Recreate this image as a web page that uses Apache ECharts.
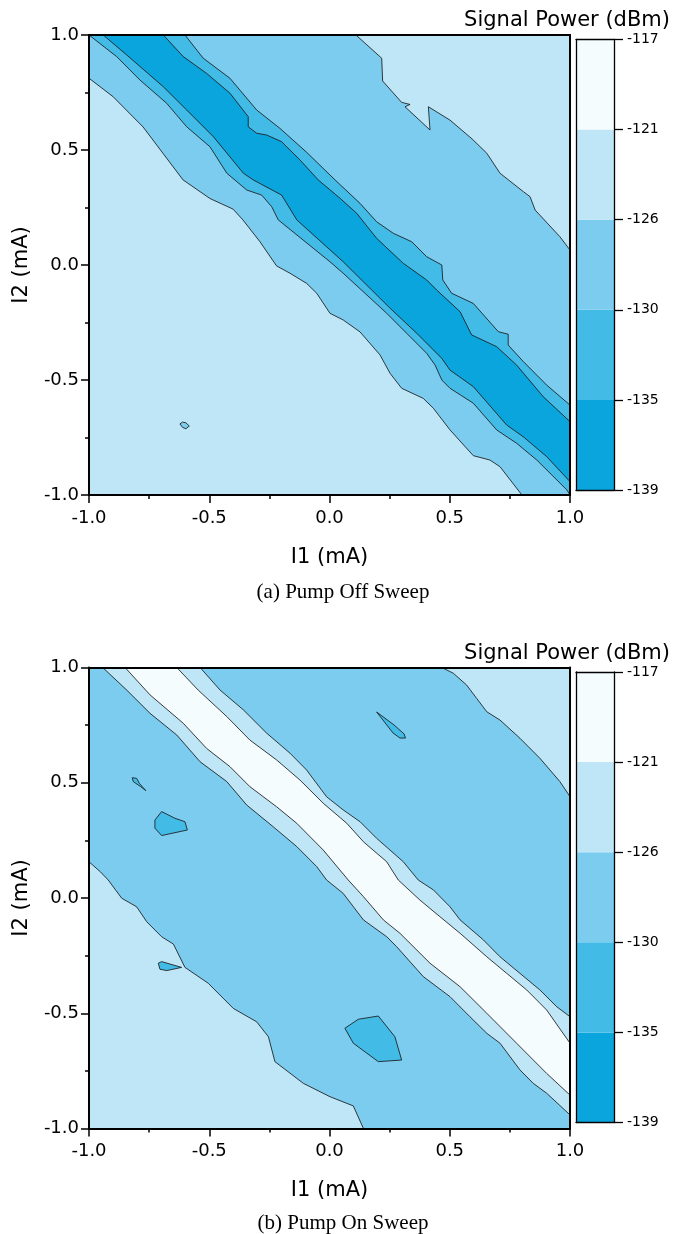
<!DOCTYPE html>
<html><head><meta charset="utf-8">
<script src="https://cdn.jsdelivr.net/npm/echarts@6/dist/echarts.min.js"></script>
<style>html,body{margin:0;padding:0;background:#fff}#c{width:673px;height:1234px}</style>
</head><body><div id="c"></div>
<script>
// ---------- colour scale (bottom -> top) ----------
const levelLabels = ['-139', '-135', '-130', '-126', '-121', '-117'];
const levelColors = ['#0aa5dd', '#42bbe7', '#7cccf0', '#bee6f6', '#f5fcfe'];
const axisTicks = [-1.0, -0.5, 0.0, 0.5, 1.0];

// ---------- (a) Pump Off: contour boundaries [I1, I2] ----------
const offBoundary126Lower = [[-1.0,0.812],[-0.900,0.732],[-0.775,0.600],[-0.609,0.370],[-0.497,0.289],[-0.401,0.243],[-0.360,0.196],[-0.289,0.101],[-0.220,-0.004],[-0.164,-0.036],[-0.095,-0.080],[-0.053,-0.123],[0.002,-0.210],[0.057,-0.239],[0.127,-0.291],[0.210,-0.391],[0.252,-0.471],[0.300,-0.536],[0.390,-0.580],[0.432,-0.623],[0.501,-0.717],[0.598,-0.829],[0.667,-0.848],[0.709,-0.877],[0.800,-1.0]];
const offBoundary126Upper = [[0.110,1.0],[0.217,0.899],[0.221,0.800],[0.300,0.707],[0.335,0.698],[0.314,0.688],[0.418,0.587],[0.411,0.688],[0.501,0.630],[0.593,0.548],[0.654,0.486],[0.709,0.399],[0.806,0.319],[0.834,0.297],[0.855,0.239],[0.958,0.123],[1.0,0.065]];
const offBoundary130Lower = [[-1.0,1.0],[-0.885,0.906],[-0.788,0.804],[-0.677,0.703],[-0.594,0.601],[-0.497,0.514],[-0.427,0.399],[-0.344,0.326],[-0.282,0.304],[-0.240,0.253],[-0.213,0.196],[0.002,0.014],[0.057,-0.036],[0.238,-0.210],[0.321,-0.297],[0.404,-0.384],[0.439,-0.435],[0.467,-0.500],[0.501,-0.536],[0.598,-0.601],[0.695,-0.717],[0.778,-0.775],[0.862,-0.848],[0.987,-0.978],[1.0,-1.0]];
const offBoundary130Upper = [[-0.601,1.0],[-0.525,0.899],[-0.414,0.812],[-0.303,0.674],[-0.206,0.594],[-0.095,0.490],[0.023,0.370],[0.127,0.268],[0.196,0.188],[0.265,0.138],[0.342,0.101],[0.404,0.036],[0.467,0.0],[0.471,-0.065],[0.508,-0.123],[0.598,-0.167],[0.702,-0.290],[0.743,-0.301],[0.743,-0.348],[0.806,-0.420],[0.903,-0.522],[1.0,-0.609]];
const offBoundary135Lower = [[-0.941,1.0],[-0.843,0.913],[-0.691,0.775],[-0.594,0.674],[-0.483,0.558],[-0.358,0.399],[-0.317,0.370],[-0.199,0.304],[-0.136,0.196],[0.057,0.014],[0.252,-0.188],[0.363,-0.297],[0.467,-0.406],[0.501,-0.457],[0.598,-0.529],[0.737,-0.696],[0.806,-0.747],[0.903,-0.833],[1.0,-0.942]];
const offBoundary135Upper = [[-0.691,1.0],[-0.608,0.906],[-0.511,0.833],[-0.414,0.747],[-0.338,0.645],[-0.338,0.601],[-0.303,0.573],[-0.261,0.565],[-0.199,0.536],[-0.123,0.457],[-0.047,0.370],[0.044,0.290],[0.113,0.225],[0.196,0.116],[0.307,0.007],[0.404,-0.065],[0.446,-0.109],[0.543,-0.203],[0.591,-0.304],[0.695,-0.355],[0.778,-0.435],[0.889,-0.573],[1.0,-0.681]];
const offIsland126 = [[-0.622,-0.691],[-0.611,-0.683],[-0.597,-0.686],[-0.583,-0.700],[-0.597,-0.712],[-0.611,-0.706]];

// ---------- (b) Pump On: contour boundaries [I1, I2] ----------
const onCorner121TopRight = [[0.467,1.0],[0.515,0.975],[0.570,0.924],[0.612,0.866],[0.654,0.808],[0.709,0.772],[0.792,0.693],[0.875,0.606],[0.958,0.505],[1.0,0.440]];
const onCorner121BottomLeft = [[-1.0,0.157],[-0.953,0.114],[-0.920,0.078],[-0.864,-0.001],[-0.802,-0.038],[-0.760,-0.103],[-0.698,-0.168],[-0.649,-0.200],[-0.601,-0.301],[-0.504,-0.370],[-0.400,-0.479],[-0.303,-0.537],[-0.254,-0.602],[-0.227,-0.710],[-0.109,-0.804],[0.002,-0.862],[0.099,-0.902],[0.141,-1.0]];
const onBoundary126Lower = [[-0.943,1.0],[-0.843,0.902],[-0.746,0.801],[-0.635,0.707],[-0.538,0.591],[-0.427,0.505],[-0.344,0.403],[-0.234,0.309],[-0.136,0.223],[-0.053,0.136],[-0.012,0.078],[0.057,0.020],[0.141,-0.095],[0.238,-0.168],[0.279,-0.211],[0.390,-0.341],[0.501,-0.428],[0.584,-0.515],[0.654,-0.587],[0.709,-0.630],[0.792,-0.746],[0.847,-0.804],[0.903,-0.847],[1.0,-0.941]];
const onBoundary126Upper = [[-0.538,1.0],[-0.455,0.902],[-0.358,0.816],[-0.261,0.715],[-0.164,0.628],[-0.095,0.555],[-0.012,0.439],[0.057,0.382],[0.127,0.331],[0.196,0.259],[0.307,0.157],[0.369,0.078],[0.432,0.035],[0.501,-0.038],[0.543,-0.095],[0.640,-0.182],[0.709,-0.255],[0.792,-0.327],[0.875,-0.399],[0.945,-0.472],[1.0,-0.515]];
const onBoundary121Lower = [[-0.850,1.0],[-0.746,0.881],[-0.608,0.758],[-0.511,0.649],[-0.414,0.570],[-0.331,0.483],[-0.220,0.396],[-0.136,0.324],[-0.026,0.208],[0.078,0.078],[0.141,0.006],[0.224,-0.095],[0.293,-0.153],[0.418,-0.283],[0.543,-0.385],[0.654,-0.500],[0.778,-0.630],[0.903,-0.761],[1.0,-0.855]];
const onBoundary121Upper = [[-0.635,1.0],[-0.546,0.902],[-0.427,0.787],[-0.331,0.685],[-0.220,0.599],[-0.123,0.512],[-0.026,0.411],[0.072,0.324],[0.141,0.244],[0.238,0.157],[0.286,0.078],[0.376,-0.009],[0.459,-0.081],[0.543,-0.153],[0.654,-0.255],[0.737,-0.327],[0.820,-0.399],[0.903,-0.486],[1.0,-0.630]];
const onIsland130A = [[0.196,0.807],[0.268,0.751],[0.310,0.712],[0.316,0.694],[0.293,0.694],[0.264,0.716]];
const onIsland130B = [[-0.820,0.522],[-0.802,0.519],[-0.791,0.498],[-0.764,0.466],[-0.785,0.483],[-0.816,0.505]];
const onIsland130C = [[-0.698,0.375],[-0.643,0.346],[-0.601,0.331],[-0.591,0.295],[-0.698,0.271],[-0.726,0.303],[-0.726,0.338]];
const onIsland130D = [[-0.712,-0.283],[-0.698,-0.276],[-0.615,-0.301],[-0.677,-0.315],[-0.705,-0.309]];
const onIsland130E = [[0.064,-0.565],[0.120,-0.526],[0.203,-0.512],[0.272,-0.602],[0.300,-0.703],[0.203,-0.710],[0.099,-0.630]];

const rev = a => a.slice().reverse();
const C117 = levelColors[4], C121 = levelColors[3], C126 = levelColors[2], C130 = levelColors[1], C135 = levelColors[0];

const offLayers = [
  {color: C126, pts: offBoundary126Lower.concat([[1, -1]], rev(offBoundary126Upper), [[-1, 1]])},
  {color: C130, pts: offBoundary130Lower.concat(rev(offBoundary130Upper))},
  {color: C135, pts: offBoundary135Lower.concat(rev(offBoundary135Upper))},
  {color: C126, pts: offIsland126}
];
const onLayers = [
  {color: C121, pts: onCorner121TopRight.concat([[1, 1]])},
  {color: C121, pts: onCorner121BottomLeft.concat([[-1, -1]])},
  {color: C121, pts: onBoundary126Lower.concat(rev(onBoundary126Upper))},
  {color: C117, pts: onBoundary121Lower.concat(rev(onBoundary121Upper))},
  {color: C130, pts: onIsland130A},
  {color: C130, pts: onIsland130B},
  {color: C130, pts: onIsland130C},
  {color: C130, pts: onIsland130D},
  {color: C130, pts: onIsland130E}
];

const FONT = "'DejaVu Sans', sans-serif";
const BLACK = '#000';

function contourSeries(xi, yi, layers) {
  return {
    type: 'custom', coordinateSystem: 'cartesian2d', xAxisIndex: xi, yAxisIndex: yi,
    clip: true, silent: true, z: 2,
    data: layers.map(() => [0, 0]),
    renderItem: function (params, api) {
      const L = layers[params.dataIndex];
      return {
        type: 'polygon',
        shape: {points: L.pts.map(p => api.coord(p))},
        style: {fill: L.color, stroke: '#1a1a1a', lineWidth: 0.85}
      };
    }
  };
}
function colorbarSeries(xi, yi) {
  return {
    type: 'custom', coordinateSystem: 'cartesian2d', xAxisIndex: xi, yAxisIndex: yi,
    silent: true, z: 2,
    data: levelColors.map((c, i) => [0, i]),
    renderItem: function (params, api) {
      const i = params.dataIndex;
      const p0 = api.coord([0, i]);
      const p1 = api.coord([1, i + 1]);
      return {type: 'rect', shape: {x: p0[0], y: p1[1], width: p1[0] - p0[0], height: p0[1] - p1[1]},
              style: {fill: levelColors[i]}};
    }
  };
}

const mainBase = {type: 'value', min: axisTicks[0], max: axisTicks[axisTicks.length - 1], interval: 0.5, z: 6,
  splitLine: {show: false}, axisLine: {show: true, onZero: false, lineStyle: {color: BLACK, width: 2}}};
const tickStyle = {show: true, length: 8, lineStyle: {color: BLACK, width: 1.5}};
const minorStyle = {show: true, splitNumber: 2, length: 4, lineStyle: {color: BLACK, width: 1.5}};
const labelFmt = v => v.toFixed(1);

function mainX(gi) {
  return [
    Object.assign({}, mainBase, {gridIndex: gi, position: 'bottom', axisTick: tickStyle, minorTick: minorStyle,
      axisLabel: {show: true, margin: 14, color: BLACK, fontFamily: FONT, fontSize: 18, formatter: labelFmt},
      name: 'I1 (mA)', nameLocation: 'middle', nameGap: 52,
      nameTextStyle: {color: BLACK, fontFamily: FONT, fontSize: 21}}),
    Object.assign({}, mainBase, {gridIndex: gi, position: 'top', axisTick: {show: false}, axisLabel: {show: false}})
  ];
}
function mainY(gi) {
  return [
    Object.assign({}, mainBase, {gridIndex: gi, position: 'left', axisTick: tickStyle, minorTick: minorStyle,
      axisLabel: {show: true, margin: 10, color: BLACK, fontFamily: FONT, fontSize: 18, formatter: labelFmt},
      name: 'I2 (mA)', nameLocation: 'middle', nameGap: 57,
      nameTextStyle: {color: BLACK, fontFamily: FONT, fontSize: 21}}),
    Object.assign({}, mainBase, {gridIndex: gi, position: 'right', axisTick: {show: false}, axisLabel: {show: false}})
  ];
}
const cbLine = {show: true, onZero: false, lineStyle: {color: BLACK, width: 1.3}};
function cbX(gi) {
  return ['bottom', 'top'].map(pos => ({type: 'value', gridIndex: gi, position: pos, min: 0, max: 1, z: 6,
    splitLine: {show: false}, axisLine: cbLine, axisTick: {show: false}, axisLabel: {show: false}}));
}
function cbY(gi) {
  return [
    {type: 'value', gridIndex: gi, position: 'left', min: 0, max: 5, interval: 1, z: 6,
     splitLine: {show: false}, axisLine: cbLine, axisTick: {show: false}, axisLabel: {show: false}},
    {type: 'value', gridIndex: gi, position: 'right', min: 0, max: 5, interval: 1, z: 6,
     splitLine: {show: false}, axisLine: cbLine,
     axisTick: {show: true, length: 9, lineStyle: {color: BLACK, width: 1.3}},
     axisLabel: {show: true, margin: 13, color: BLACK, fontFamily: FONT, fontSize: 14,
                 formatter: v => levelLabels[Math.round(v)]}}
  ];
}

const gridCommon = {containLabel: false, outerBoundsMode: 'none', borderWidth: 0};
const option = {
  animation: false,
  backgroundColor: '#fff',
  grid: [
    Object.assign({}, gridCommon, {left: 89, top: 35, width: 481, height: 460, show: true, backgroundColor: C121}),
    Object.assign({}, gridCommon, {left: 89, top: 667.5, width: 481, height: 461, show: true, backgroundColor: C126}),
    Object.assign({}, gridCommon, {left: 576, top: 39.5, width: 38, height: 450.5}),
    Object.assign({}, gridCommon, {left: 576, top: 672, width: 38, height: 450.5})
  ],
  xAxis: [].concat(mainX(0), mainX(1), cbX(2), cbX(3)),
  yAxis: [].concat(mainY(0), mainY(1), cbY(2), cbY(3)),
  series: [
    contourSeries(0, 0, offLayers),
    contourSeries(2, 2, onLayers),
    colorbarSeries(4, 5),
    colorbarSeries(6, 7)
  ],
  graphic: [
    {type: 'text', x: 670, y: 21, style: {text: 'Signal Power (dBm)', align: 'right', verticalAlign: 'middle',
      font: "21px 'DejaVu Sans', sans-serif", fill: BLACK}},
    {type: 'text', x: 670, y: 654, style: {text: 'Signal Power (dBm)', align: 'right', verticalAlign: 'middle',
      font: "21px 'DejaVu Sans', sans-serif", fill: BLACK}},
    {type: 'text', x: 343, y: 592, style: {text: '(a) Pump Off Sweep', align: 'center', verticalAlign: 'middle',
      font: "21px 'Liberation Serif', serif", fill: BLACK}},
    {type: 'text', x: 343, y: 1223, style: {text: '(b) Pump On Sweep', align: 'center', verticalAlign: 'middle',
      font: "21px 'Liberation Serif', serif", fill: BLACK}}
  ]
};
const chart = echarts.init(document.getElementById('c'));
chart.setOption(option);
</script>
</body></html>
